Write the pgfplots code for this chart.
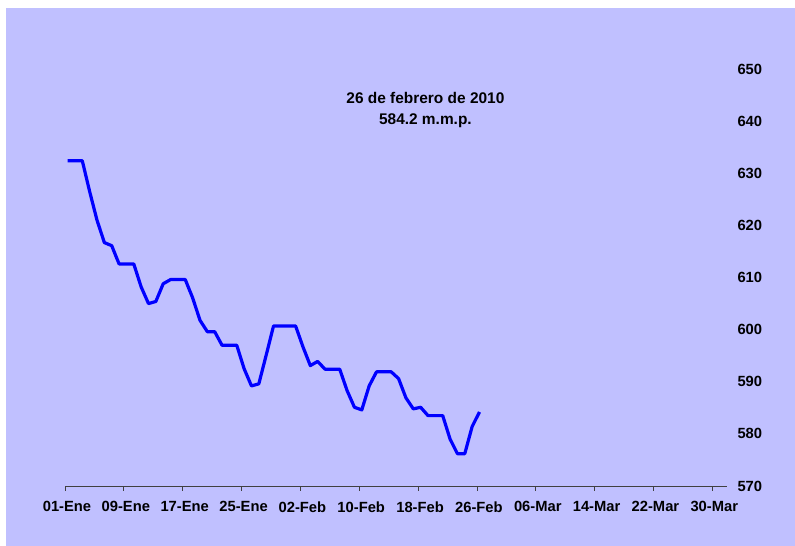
\documentclass[border=0pt]{standalone}
\usepackage{pgfplots}
\pgfplotsset{compat=1.18}
\usepackage{fontspec}
\setmainfont{Liberation Sans}
\definecolor{bgl}{RGB}{192,192,255}
\pgfplotstableread{
day val
0 632.4
1 632.4
2 632.4
3 626.5
4 621.0
5 616.7
6 616.1
7 612.6
8 612.6
9 612.6
10 608.2
11 605.0
12 605.4
13 608.8
14 609.6
15 609.6
16 609.6
17 606.1
18 601.8
19 599.6
20 599.6
21 597.0
22 597.0
23 597.0
24 592.5
25 589.2
26 589.6
27 595.1
28 600.7
29 600.7
30 600.7
31 600.7
32 596.7
33 593.1
34 593.9
35 592.4
36 592.4
37 592.4
38 588.3
39 585.1
40 584.6
41 589.2
42 591.9
43 591.9
44 591.9
45 590.6
46 586.9
47 584.8
48 585.1
49 583.5
50 583.5
51 583.5
52 579.0
53 576.2
54 576.2
55 581.4
56 584.2
}\datatable
\begin{document}
\begin{tikzpicture}[x=1bp,y=1bp]
\path[use as bounding box] (0,0) rectangle (795,546);
\fill[bgl] (6,0) rectangle (795,538);
\begin{axis}[
 at={(65bp,60bp)}, anchor=south west,
 scale only axis, width=662bp, height=417bp,
 xmin=0, xmax=90, ymin=570, ymax=650,
 axis x line*=bottom, axis y line*=right,
 y axis line style={draw=none},
 x axis line style={black!75, line width=0.8bp},
 xtick={0,8,...,88},
 xticklabels={01-Ene,09-Ene,17-Ene,25-Ene,02-Feb,10-Feb,18-Feb,26-Feb,06-Mar,14-Mar,22-Mar,30-Mar},
 ytick={570,580,...,650},
 ytick style={draw=none},
 xtick style={black!75, line width=0.8bp},
 tick align=outside, major tick length=5bp,
 ticklabel style={font=\fontsize{14.8}{18}\selectfont\bfseries},
 xticklabel style={yshift=-7bp, xshift=2bp},
 yticklabel style={xshift=2bp},
 /pgf/number format/assume math mode=true,
 clip=false,
]
\addplot[blue, line width=3.2bp, line join=round, x filter/.expression={x+0.35}] table[x=day, y=val] {\datatable};
\node[align=center, font=\fontsize{15.5}{21}\selectfont\bfseries] at (axis cs:49,642.2) {26 de febrero de 2010\\584.2 m.m.p.};
\end{axis}
\end{tikzpicture}
\end{document}
